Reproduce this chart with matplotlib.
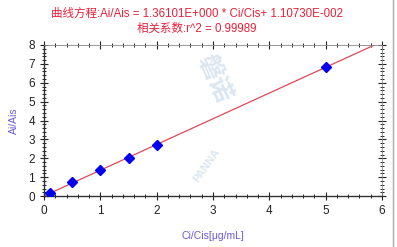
import matplotlib
matplotlib.use("Agg")
import matplotlib.pyplot as plt
from matplotlib.ticker import MultipleLocator, AutoMinorLocator
from matplotlib.lines import Line2D
import numpy as np

# calibration data
conc = [0.1, 0.5, 1.0, 1.5, 2.0, 5.0]
ratio = [0.19, 0.74, 1.40, 2.04, 2.70, 6.84]
slope = 1.36101
intercept = 1.10730e-2
fit_x = [0, 6]

fonts = ['Liberation Sans', 'Noto Sans CJK SC', 'DejaVu Sans']
plt.rcParams['font.family'] = fonts

fig = plt.figure(figsize=(3.97, 2.47), dpi=100)
ax = fig.add_axes([0.111, 0.206, 0.851, 0.612])

fx = np.array(fit_x)
ax.plot(fx, slope * fx + intercept, color='#e04858', lw=0.9, zorder=2)
ax.plot(conc, ratio, ls='none', marker='D', ms=5.5, color='#0000ee', zorder=3)

ax.set_xlim(0, 6)
ax.set_ylim(0, 8)
ax.xaxis.set_major_locator(MultipleLocator(1))
ax.yaxis.set_major_locator(MultipleLocator(1))
ax.xaxis.set_minor_locator(AutoMinorLocator(5))
ax.yaxis.set_minor_locator(AutoMinorLocator(5))
ax.tick_params(axis='both', which='major', direction='inout', length=6, width=0.8,
               labelsize=8.5, colors='#222222', top=True, right=True)
ax.tick_params(axis='both', which='minor', direction='inout', length=3, width=0.6,
               top=True, right=True)
for side in ['top', 'right']:
    ax.spines[side].set_color('#888888')
    ax.spines[side].set_linewidth(0.6)
for side in ['left', 'bottom']:
    ax.spines[side].set_color('#333333')
    ax.spines[side].set_linewidth(1.0)

ax.set_xlabel('Ci/Cis[μg/mL]', color='#6a5cd8', fontsize=7.5, labelpad=10)
ax.set_ylabel('Ai/Ais', color='#6a5cd8', fontsize=7.5, labelpad=7)

fig.text(0.496, 0.942, '曲线方程:Ai/Ais = 1.36101E+000 * Ci/Cis+ 1.10730E-002',
         ha='center', va='center', color='#e8203a', fontsize=8.3, family=fonts)
fig.text(0.496, 0.885, '相关系数:r^2 = 0.99989',
         ha='center', va='center', color='#e8203a', fontsize=8.3, family=fonts)

# faint watermark
fig.text(0.54, 0.68, '磐诺', rotation=-65, ha='center', va='center',
         color='#d4e0ec', fontsize=18, fontweight='bold', alpha=0.8, family=fonts)
fig.text(0.52, 0.33, 'PANNA', rotation=55, ha='center', va='center',
         color='#d4e0ec', fontsize=8, fontweight='bold', alpha=0.8)

fig.add_artist(Line2D([0.99, 0.99], [0, 1], color='#aaaaaa', lw=1.0))

fig.savefig('out.png', dpi=100)
